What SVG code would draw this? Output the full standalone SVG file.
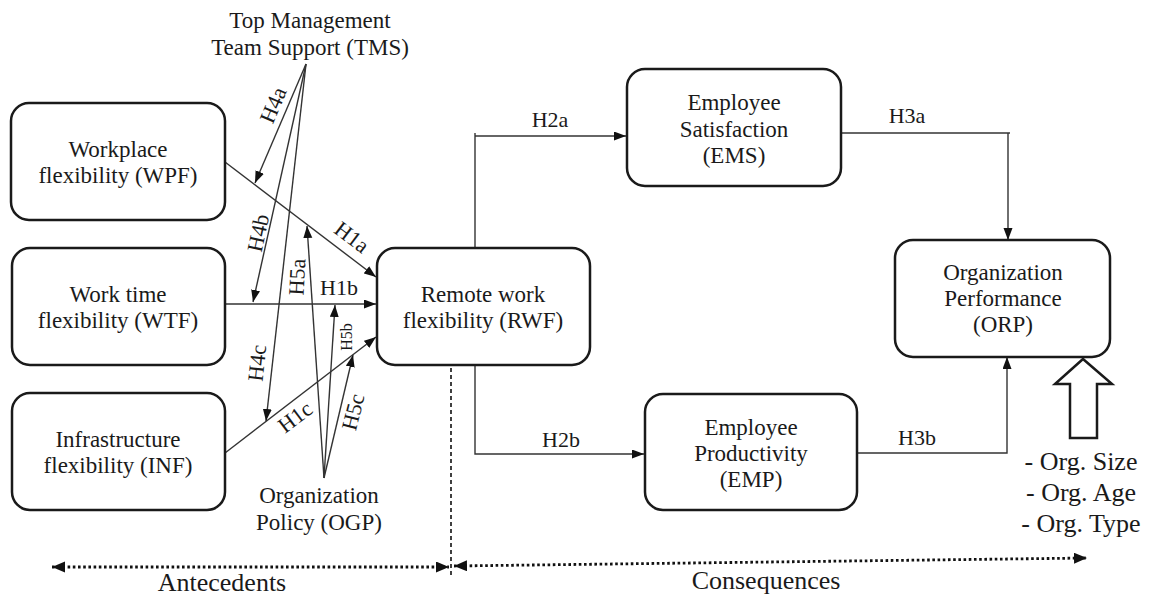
<svg xmlns="http://www.w3.org/2000/svg" width="1150" height="597" viewBox="0 0 1150 597">
<style>
text{font-family:"Liberation Serif","Times New Roman",Times,Tinos,"Nimbus Roman","Nimbus Roman No9 L",FreeSerif,"Noto Serif","DejaVu Serif",serif;fill:#1a1a1a;text-anchor:middle}
.box{fill:#fff;stroke:#1a1a1a;stroke-width:2.5}
.t{font-size:23px}
.lb{font-size:22px}
.rl{font-size:22px;dominant-baseline:central}
.ln{fill:none;stroke:#333;stroke-width:1.4}
.dot{fill:none;stroke:#111;stroke-width:2.8;stroke-dasharray:2.6 2.6}
.dash{fill:none;stroke:#111;stroke-width:1.6;stroke-dasharray:4 3}
.big{font-size:26px}
</style>
<defs>
<marker id="ah" markerUnits="userSpaceOnUse" markerWidth="13" markerHeight="10" refX="12" refY="4.5" orient="auto">
<path d="M0,0 L12,4.5 L0,9 z" fill="#111"/>
</marker>
<marker id="ad" markerUnits="userSpaceOnUse" markerWidth="15" markerHeight="12" refX="13" refY="5.5" orient="auto-start-reverse">
<path d="M0,0 L13,5.5 L0,11 z" fill="#111"/>
</marker>
</defs>
<rect width="1150" height="597" fill="#fff"/>

<g id="connectors">
<path class="ln" d="M225,162 L376,277" marker-end="url(#ah)"/>
<path class="ln" d="M225,304 L376,304" marker-end="url(#ah)"/>
<path class="ln" d="M225,453 L376,337" marker-end="url(#ah)"/>
<path class="ln" d="M306,64 L255,183" marker-end="url(#ah)"/>
<path class="ln" d="M306,64 L253,302" marker-end="url(#ah)"/>
<path class="ln" d="M306,64 L266,421" marker-end="url(#ah)"/>
<path class="ln" d="M324,478 L307,226" marker-end="url(#ah)"/>
<path class="ln" d="M324,478 L335,305" marker-end="url(#ah)"/>
<path class="ln" d="M324,478 L353,355" marker-end="url(#ah)"/>
<path class="ln" d="M475,248 V133"/>
<path class="ln" d="M475,136 H626" marker-end="url(#ah)"/>
<path class="ln" d="M475,365 V454 H644" marker-end="url(#ah)"/>
<path class="ln" d="M841,133 H1010"/>
<path class="ln" d="M1008,133 V240" marker-end="url(#ah)"/>
<path class="ln" d="M857,453 H1007 V357" marker-end="url(#ah)"/>
<polygon points="1083,359 1112,384 1097,384 1097,438 1070,438 1070,384 1055,384" fill="#fff" stroke="#1a1a1a" stroke-width="2.5" stroke-linejoin="miter"/>
<path class="dash" d="M451,368 V577"/>
<path class="dot" d="M52,567 H449" marker-start="url(#ad)" marker-end="url(#ad)"/>
<path class="dot" d="M454,566 L1087,558" marker-start="url(#ad)" marker-end="url(#ad)"/>
<text class="rl" transform="translate(273,105) rotate(-67)">H4a</text>
<text class="rl" transform="translate(258,233) rotate(-78)">H4b</text>
<text class="rl" transform="translate(297,277) rotate(-87)">H5a</text>
<text class="rl" transform="translate(352,237) rotate(37)">H1a</text>
<text class="lb" x="339" y="295">H1b</text>
<text class="rl" style="font-size:16px" transform="translate(346,337) rotate(-90)">H5b</text>
<text class="rl" transform="translate(257,363) rotate(-84)">H4c</text>
<text class="rl" transform="translate(295,417) rotate(-37)">H1c</text>
<text class="rl" transform="translate(353,412) rotate(-76)">H5c</text>
<text class="lb" x="550" y="127">H2a</text>
<text class="lb" x="561" y="447">H2b</text>
<text class="lb" x="907" y="123">H3a</text>
<text class="lb" x="917" y="445">H3b</text>
</g>

<g id="TMS">
<text class="t" x="310" y="28">Top Management</text>
<text class="t" x="310" y="55">Team Support (TMS)</text>
</g>
<g id="OGP">
<text class="t" x="319" y="503">Organization</text>
<text class="t" x="319" y="530">Policy (OGP)</text>
</g>
<g id="WPF">
<rect class="box" x="11" y="103" width="214" height="117" rx="18"/>
<text class="t" x="118" y="157">Workplace</text>
<text class="t" x="118" y="183">flexibility (WPF)</text>
</g>
<g id="WTF">
<rect class="box" x="12" y="248" width="213" height="117" rx="18"/>
<text class="t" x="118" y="302">Work time</text>
<text class="t" x="118" y="328">flexibility (WTF)</text>
</g>
<g id="INF">
<rect class="box" x="12" y="393" width="213" height="117" rx="18"/>
<text class="t" x="118" y="447">Infrastructure</text>
<text class="t" x="118" y="473">flexibility (INF)</text>
</g>
<g id="RWF">
<rect class="box" x="377" y="248" width="213" height="117" rx="18"/>
<text class="t" x="483" y="302">Remote work</text>
<text class="t" x="483" y="328">flexibility (RWF)</text>
</g>
<g id="EMS">
<rect class="box" x="627" y="69" width="214" height="117" rx="18"/>
<text class="t" x="734" y="110">Employee</text>
<text class="t" x="734" y="137">Satisfaction</text>
<text class="t" x="734" y="163">(EMS)</text>
</g>
<g id="EMP">
<rect class="box" x="645" y="394" width="212" height="116" rx="18"/>
<text class="t" x="751" y="435">Employee</text>
<text class="t" x="751" y="461">Productivity</text>
<text class="t" x="751" y="487">(EMP)</text>
</g>
<g id="ORP">
<rect class="box" x="895" y="240" width="215" height="117" rx="18"/>
<text class="t" x="1003" y="280">Organization</text>
<text class="t" x="1003" y="306">Performance</text>
<text class="t" x="1003" y="332">(ORP)</text>
</g>
<g id="controls">
<text class="big" x="1081" y="470">- Org. Size</text>
<text class="big" x="1081" y="501">- Org. Age</text>
<text class="big" x="1081" y="532">- Org. Type</text>
</g>
<g id="phases">
<text class="big" x="222" y="591">Antecedents</text>
<text class="big" x="766" y="589">Consequences</text>
</g>
</svg>
